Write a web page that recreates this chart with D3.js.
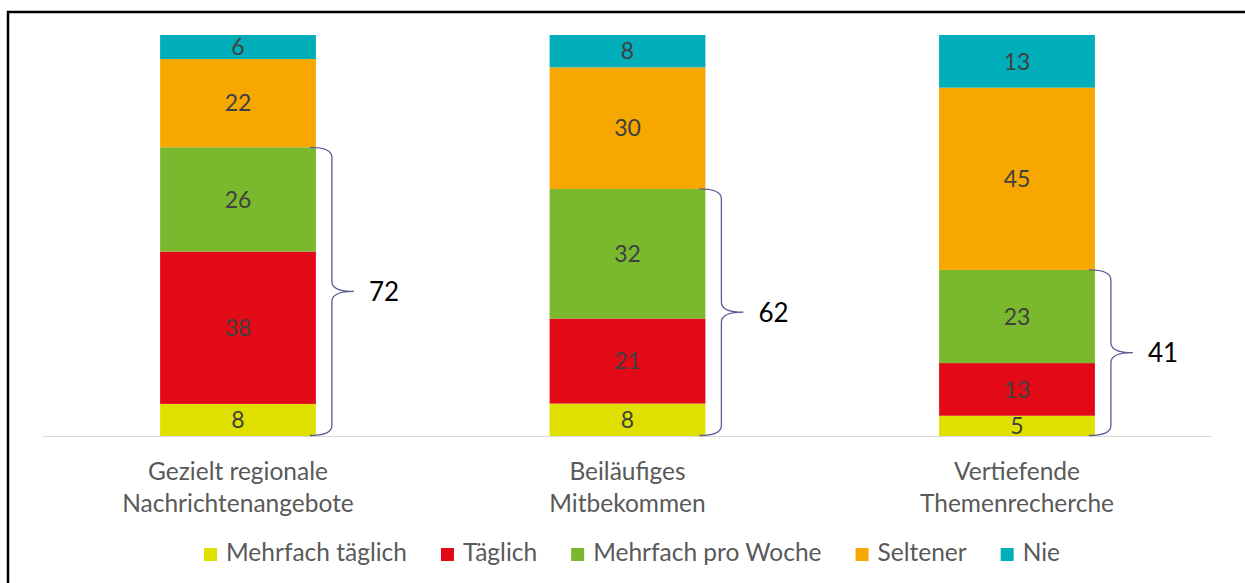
<!DOCTYPE html>
<html>
<head>
<meta charset="utf-8">
<script src="https://cdn.jsdelivr.net/npm/d3@7"></script>
<style>
  body { margin: 0; background: #fff; }
  svg { display: block; font-family: Lato, "Open Sans", sans-serif; }
</style>
</head>
<body>
<svg id="chart" width="1245" height="583"></svg>
<script>
const categories = [
    ["Gezielt regionale", "Nachrichtenangebote"],
    ["Beiläufiges", "Mitbekommen"],
    ["Vertiefende", "Themenrecherche"]
];
const seriesNames = ["Mehrfach täglich", "Täglich", "Mehrfach pro Woche", "Seltener", "Nie"];
const seriesColors = ["#dfe000", "#e30a17", "#7ab92e", "#f6a800", "#00aeba"];
const mehrfachTaeglich = [8, 8, 5];
const taeglich = [38, 21, 13];
const proWoche = [26, 32, 23];
const seltener = [22, 30, 45];
const nie = [6, 8, 13];
const totals = [72, 62, 41];   // mindestens woechentlich

const svg = d3.select("#chart");

// Rahmen
svg.append("rect")
    .attr("x", 8).attr("y", 12)
    .attr("width", 1260).attr("height", 600)
    .attr("fill", "none")
    .attr("stroke", "#000")
    .attr("stroke-width", 2.5);

const rows = categories.map((c, i) => ({
    key: i,
    "Mehrfach täglich": mehrfachTaeglich[i],
    "Täglich": taeglich[i],
    "Mehrfach pro Woche": proWoche[i],
    "Seltener": seltener[i],
    "Nie": nie[i]
}));

const stacked = d3.stack()
    .keys(seriesNames)
    .offset(d3.stackOffsetExpand)(rows);

const x = d3.scaleBand()
    .domain(d3.range(categories.length))
    .range([43.25, 1211.75])
    .paddingInner(0.6)
    .paddingOuter(0.3);

const y = d3.scaleLinear().domain([0, 1]).range([436, 35]);

const color = d3.scaleOrdinal().domain(seriesNames).range(seriesColors);

// Achse
svg.append("line")
    .attr("x1", 43).attr("x2", 1212)
    .attr("y1", 436.5).attr("y2", 436.5)
    .attr("stroke", "#d9d9d9")
    .attr("stroke-width", 1.2);

const layers = svg.selectAll("g.layer")
    .data(stacked)
    .join("g")
    .attr("class", "layer")
    .attr("fill", d => color(d.key));

layers.selectAll("rect")
    .data(d => d)
    .join("rect")
    .attr("x", d => x(d.data.key))
    .attr("width", x.bandwidth())
    .attr("y", d => y(d[1]))
    .attr("height", d => y(d[0]) - y(d[1]));

layers.selectAll("text")
    .data(d => d.map(p => ({p, key: d.key})))
    .join("text")
    .attr("x", d => x(d.p.data.key) + x.bandwidth() / 2)
    .attr("y", d => (y(d.p[0]) + y(d.p[1])) / 2)
    .attr("dy", "0.36em")
    .attr("text-anchor", "middle")
    .attr("fill", "#404040")
    .attr("font-size", 23)
    .text(d => d.p.data[d.key]);

// Klammern
const greenTop = stacked[2];
categories.forEach((c, i) => {
    const xr = x(i) + x.bandwidth();
    const y0 = y(greenTop[i][1]);
    const y1 = y(0) - 0.5;
    const ym = (y0 + y1) / 2;
    const xv = xr + 16, xt = xr + 38;
    const p = d3.path();
    p.moveTo(xr - 6, y0);
    p.quadraticCurveTo(xv, y0, xv, y0 + 10);
    p.lineTo(xv, ym - 10);
    p.quadraticCurveTo(xv, ym, xt, ym);
    p.quadraticCurveTo(xv, ym, xv, ym + 10);
    p.lineTo(xv, y1 - 10);
    p.quadraticCurveTo(xv, y1, xr - 6, y1);
    svg.append("path")
        .attr("d", p.toString())
        .attr("fill", "none")
        .attr("stroke", "#5a5a96")
        .attr("stroke-width", 1.3);
    svg.append("text")
        .attr("x", xt + 15)
        .attr("y", ym)
        .attr("dy", "0.36em")
        .attr("font-size", 26)
        .attr("fill", "#000")
        .text(totals[i]);
});

// Kategorien
categories.forEach((lines, i) => {
    const t = svg.append("text")
        .attr("text-anchor", "middle")
        .attr("fill", "#595959")
        .attr("font-size", 24.5);
    lines.forEach((l, j) => {
        t.append("tspan")
            .attr("x", x(i) + x.bandwidth() / 2)
            .attr("y", 480 + j * 32)
            .text(l);
    });
});

// Legende
const legend = svg.append("g");
let lx = 0;
seriesNames.forEach((name, i) => {
    const g = legend.append("g").attr("transform", `translate(${lx},0)`);
    g.append("rect")
        .attr("x", 0).attr("y", 548)
        .attr("width", 13).attr("height", 13)
        .attr("fill", seriesColors[i]);
    const t = g.append("text")
        .attr("x", 22).attr("y", 561)
        .attr("fill", "#595959")
        .attr("font-size", 24.5)
        .text(name);
    lx += 22 + t.node().getComputedTextLength() + 34;
});
const lw = lx - 34;
legend.attr("transform", `translate(${632 - lw / 2},0)`);
</script>
</body>
</html>
